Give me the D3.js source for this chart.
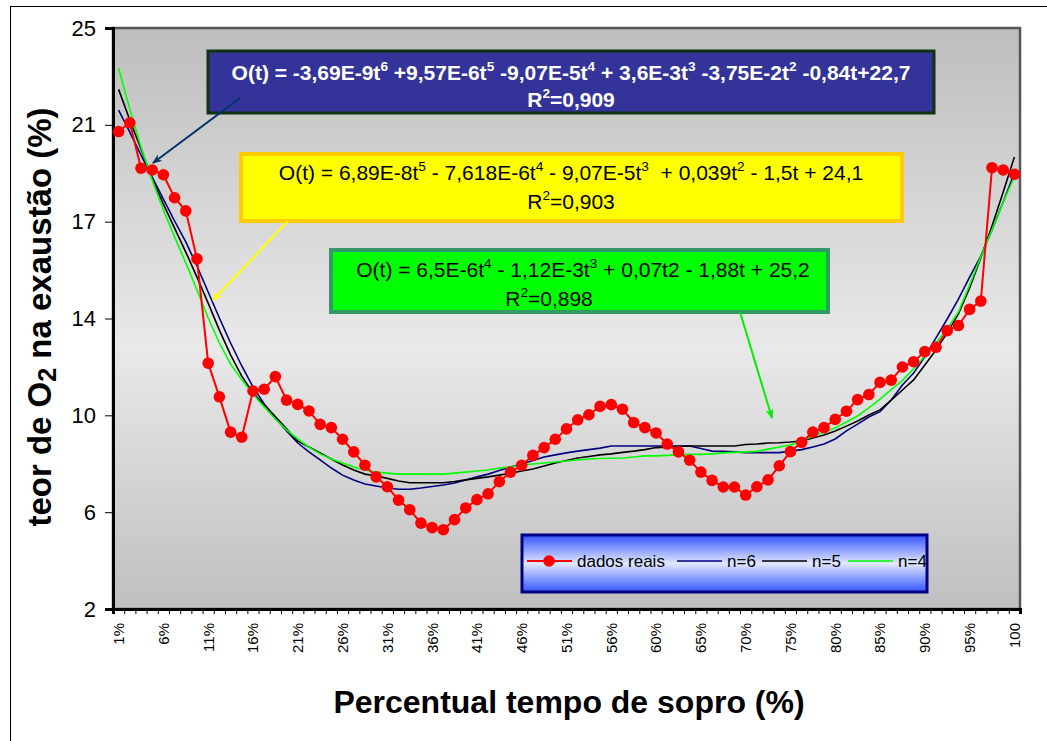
<!DOCTYPE html>
<html lang="pt">
<head>
<meta charset="UTF-8">
<title>teor de O2 na exaustão</title>
<script src="https://d3js.org/d3.v7.min.js"></script>
<style>
    body { margin: 0; background: #fff; }
    text { font-family: "Liberation Sans", Arial, sans-serif; }
</style>
</head>
<body>
<script>
    const width = 1047
    const height = 741
    const plot = {left: 113, right: 1020, top: 28, bottom: 609}

    // x tick labels (one every 4 categories)
    const tickLabels = ['1%', '6%', '11%', '16%', '21%', '26%', '31%', '36%', '41%', '46%', '51%',
        '56%', '60%', '65%', '70%', '75%', '80%', '85%', '90%', '95%', '100']
    const yTickValues = [2, 5.833, 9.667, 13.5, 17.333, 21.167, 25]
    const yTickLabels = ['2', '6', '10', '14', '17', '21', '25']

    const dadosReais = [20.9, 21.25, 19.45, 19.38, 19.19, 18.28, 17.76, 15.86, 11.73, 10.40,
        9.0, 8.8, 10.63, 10.70, 11.2, 10.27, 10.1, 9.84, 9.31, 9.18,
        8.72, 8.22, 7.69, 7.23, 6.84, 6.31, 5.93, 5.40, 5.22, 5.14,
        5.54, 6.0, 6.33, 6.56, 7.04, 7.42, 7.69, 8.08, 8.39, 8.72,
        9.13, 9.49, 9.69, 10.02, 10.09, 9.91, 9.38, 9.18, 8.97, 8.53,
        8.22, 7.89, 7.42, 7.09, 6.83, 6.83, 6.51, 6.84, 7.11, 7.67,
        8.23, 8.6, 9.0, 9.18, 9.51, 9.83, 10.29, 10.49, 10.97, 11.06,
        11.58, 11.79, 12.19, 12.36, 13.02, 13.22, 13.86, 14.19, 19.47, 19.38, 19.21]
    const n6 = [21.75, 20.88, 19.97, 19.10, 18.23, 17.36, 16.53, 15.58, 14.55, 13.52,
        12.53, 11.62, 10.79, 10.12, 9.56, 9.05, 8.57, 8.22, 7.90, 7.58,
        7.30, 7.11, 6.95, 6.87, 6.79, 6.74, 6.74, 6.79, 6.85, 6.91,
        6.99, 7.11, 7.23, 7.34, 7.48, 7.62, 7.74, 7.88, 8.02, 8.10,
        8.18, 8.25, 8.31, 8.37, 8.45, 8.45, 8.45, 8.45, 8.45, 8.45,
        8.45, 8.45, 8.35, 8.25, 8.24, 8.22, 8.19, 8.19, 8.19, 8.19,
        8.25, 8.31, 8.41, 8.53, 8.73, 9.05, 9.32, 9.60, 9.81, 10.27,
        10.87, 11.34, 11.98, 12.73, 13.48, 14.27, 15.14, 15.97, 17.01, 18.11, 19.26]
    const n5 = [22.57, 21.36, 20.21, 19.02, 18.03, 17.08, 16.13, 15.14, 14.11, 13.04,
        12.06, 11.22, 10.55, 10.08, 9.62, 9.13, 8.65, 8.41, 8.18, 7.94,
        7.70, 7.50, 7.34, 7.27, 7.17, 7.07, 7.00, 7.00, 7.00, 7.00,
        7.05, 7.11, 7.17, 7.23, 7.30, 7.38, 7.46, 7.54, 7.66, 7.78,
        7.88, 7.98, 8.04, 8.10, 8.14, 8.20, 8.25, 8.31, 8.39, 8.41,
        8.43, 8.45, 8.45, 8.45, 8.45, 8.45, 8.51, 8.53, 8.57, 8.58,
        8.61, 8.65, 8.77, 8.89, 9.05, 9.24, 9.44, 9.68, 9.88, 10.27,
        10.67, 11.07, 11.66, 12.25, 12.93, 13.68, 14.71, 15.90, 17.16, 18.51, 19.89]
    const n4 = [23.41, 21.79, 20.29, 18.98, 17.80, 16.73, 15.70, 14.63, 13.52, 12.53,
        11.70, 11.07, 10.51, 10.00, 9.52, 9.09, 8.73, 8.41, 8.14, 7.94,
        7.78, 7.62, 7.50, 7.42, 7.38, 7.34, 7.34, 7.34, 7.34, 7.34,
        7.38, 7.42, 7.46, 7.50, 7.58, 7.62, 7.70, 7.74, 7.78, 7.82,
        7.86, 7.90, 7.94, 7.96, 7.97, 7.98, 8.02, 8.06, 8.06, 8.08,
        8.10, 8.12, 8.12, 8.14, 8.18, 8.20, 8.22, 8.24, 8.33, 8.41,
        8.49, 8.65, 8.85, 9.01, 9.17, 9.40, 9.64, 9.96, 10.31, 10.68,
        11.05, 11.51, 12.02, 12.53, 13.10, 13.76, 14.83, 15.94, 17.01, 18.10, 19.10]

    const seriesNames = ['dados reais', 'n=6', 'n=5', 'n=4']
    const colors = ['#ff0000', '#000080', '#000000', '#00ff00']

    const eqN6 = ['O(t) = -3,69E-9t^6 +9,57E-6t^5 -9,07E-5t^4 + 3,6E-3t^3 -3,75E-2t^2 -0,84t+22,7', 'R^2=0,909']
    const eqN5 = ['O(t) = 6,89E-8t^5 - 7,618E-6t^4 - 9,07E-5t^3  + 0,039t^2 - 1,5t + 24,1', 'R^2=0,903']
    const eqN4 = ['O(t) = 6,5E-6t^4 - 1,12E-3t^3 + 0,07t2 - 1,88t + 25,2', 'R^2=0,898']

    const categories = d3.range(dadosReais.length)

    const svg = d3.select('body')
        .append('svg')
        .attr('width', width)
        .attr('height', height)

    const defs = svg.append('defs')
    const bg = defs.append('linearGradient').attr('id', 'plotBg')
        .attr('x1', 0).attr('y1', 0).attr('x2', 0).attr('y2', 1)
    bg.append('stop').attr('offset', '0%').attr('stop-color', '#bebebe')
    bg.append('stop').attr('offset', '55%').attr('stop-color', '#e9e9e9')
    bg.append('stop').attr('offset', '100%').attr('stop-color', '#bfbfbf')
    const lg = defs.append('linearGradient').attr('id', 'legBg')
        .attr('x1', 0).attr('y1', 0).attr('x2', 0).attr('y2', 1)
    lg.append('stop').attr('offset', '0%').attr('stop-color', '#3355ff')
    lg.append('stop').attr('offset', '50%').attr('stop-color', '#e2e8ff')
    lg.append('stop').attr('offset', '100%').attr('stop-color', '#3355ff')
    const arrowColors = {navy: '#003366', yellow: '#ffff00', green: '#00ee00'}
    Object.keys(arrowColors).forEach(function (k) {
        defs.append('marker').attr('id', 'arr-' + k)
            .attr('viewBox', '0 0 10 8').attr('refX', 9).attr('refY', 4)
            .attr('markerWidth', 10).attr('markerHeight', 8)
            .attr('markerUnits', 'userSpaceOnUse')
            .attr('orient', 'auto')
            .append('path').attr('d', 'M0,0 L10,4 L0,8 L3,4 z')
            .attr('fill', arrowColors[k])
    })

    // chart frame
    svg.append('rect')
        .attr('x', 10.5).attr('y', 6.5)
        .attr('width', 1100).attr('height', 800)
        .attr('fill', '#fff').attr('stroke', '#000').attr('stroke-width', 1)

    svg.append('rect')
        .attr('x', plot.left).attr('y', plot.top)
        .attr('width', plot.right - plot.left).attr('height', plot.bottom - plot.top)
        .attr('fill', 'url(#plotBg)')
        .attr('stroke', '#555').attr('stroke-width', 2.5)

    const xScale = d3.scaleBand()
        .domain(categories)
        .range([plot.left, plot.right])
    const xEdge = d3.scaleLinear()
        .domain([0, categories.length])
        .range([plot.left, plot.right])
    const yScale = d3.scaleLinear()
        .domain([2, 25])
        .range([plot.bottom, plot.top])

    // y axis
    const yAxis = svg.append('g')
        .attr('transform', 'translate(' + plot.left + ',0)')
        .call(d3.axisLeft(yScale).tickValues(yTickValues).tickSize(8).tickPadding(9)
            .tickFormat(function (d, i) { return yTickLabels[i] }))
    yAxis.select('.domain').attr('stroke', '#000').attr('stroke-width', 3)
    yAxis.selectAll('text').attr('font-size', 22).attr('fill', '#000')
        .style('font-family', '"Liberation Sans", Arial, sans-serif')

    // x axis: ticks between categories, labels every 4th
    const xTicks = svg.append('g')
        .attr('transform', 'translate(0,' + plot.bottom + ')')
        .call(d3.axisBottom(xEdge).tickValues(d3.range(categories.length + 1)).tickSize(5).tickFormat(''))
    xTicks.select('.domain').attr('stroke', '#000').attr('stroke-width', 3)
    const xLabels = svg.append('g')
        .attr('transform', 'translate(0,' + plot.bottom + ')')
        .call(d3.axisBottom(xScale).tickValues(categories.filter(function (i) { return i % 4 === 0 }))
            .tickSize(0).tickFormat(function (i) { return tickLabels[i / 4] }))
    xLabels.select('.domain').remove()
    xLabels.selectAll('text')
        .attr('transform', 'rotate(-90)')
        .attr('text-anchor', 'end')
        .attr('x', -14).attr('y', 0).attr('dy', '0.36em')
        .attr('font-size', 15).attr('fill', '#000')
        .style('font-family', '"Liberation Sans", Arial, sans-serif')

    // fitted curves
    const line = d3.line()
        .x(function (d, i) { return xScale(categories[i]) + xScale.bandwidth() / 2 })
        .y(function (d) { return yScale(d) })
    const fits = [n6, n5, n4]
    fits.forEach(function (s, j) {
        svg.append('path')
            .attr('d', line(s))
            .attr('fill', 'none')
            .attr('stroke', colors[j + 1])
            .attr('stroke-width', 1.6)
    })

    // measured data
    svg.append('path')
        .attr('d', line(dadosReais))
        .attr('fill', 'none')
        .attr('stroke', colors[0])
        .attr('stroke-width', 2)
    svg.append('g')
        .selectAll('circle')
        .data(dadosReais)
        .join('circle')
        .attr('cx', function (d, i) { return xScale(categories[i]) + xScale.bandwidth() / 2 })
        .attr('cy', function (d) { return yScale(d) })
        .attr('r', 5.8)
        .attr('fill', colors[0])

    // axis titles
    const yTitle = svg.append('text')
        .attr('transform', 'translate(51,317) rotate(-90)')
        .attr('text-anchor', 'middle')
        .attr('font-size', 33).attr('font-weight', 'bold')
    yTitle.append('tspan').text('teor de O')
    yTitle.append('tspan').attr('font-size', 25).attr('dy', 5).text('2')
    yTitle.append('tspan').attr('dy', -5).text(' na exaustão (%)')

    svg.append('text')
        .attr('x', 569).attr('y', 713)
        .attr('text-anchor', 'middle')
        .attr('font-size', 32).attr('font-weight', 'bold')
        .text('Percentual tempo de sopro (%)')

    // legend
    const legend = svg.append('g')
    legend.append('rect')
        .attr('x', 522).attr('y', 535).attr('width', 405).attr('height', 57)
        .attr('fill', 'url(#legBg)').attr('stroke', '#000080').attr('stroke-width', 3)
    const legX = [527, 677, 762, 848]
    seriesNames.forEach(function (name, j) {
        legend.append('line')
            .attr('x1', legX[j]).attr('x2', legX[j] + 45)
            .attr('y1', 561).attr('y2', 561)
            .attr('stroke', colors[j]).attr('stroke-width', j === 0 ? 2 : 1.6)
        if (j === 0) {
            legend.append('circle').attr('cx', legX[j] + 22).attr('cy', 561).attr('r', 5.8).attr('fill', colors[0])
        }
        legend.append('text')
            .attr('x', legX[j] + 50).attr('y', 567)
            .attr('font-size', 17).attr('fill', '#000')
            .text(name)
    })

    // equation boxes
    function richLine(g, str, x, y, size, fill, weight, family) {
        const t = g.append('text')
            .attr('x', x).attr('y', y)
            .attr('text-anchor', 'middle')
            .attr('font-size', size).attr('fill', fill).attr('font-weight', weight)
            .style('white-space', 'pre')
        if (family) t.style('font-family', family)
        const parts = str.split('^')
        parts.forEach(function (p, i) {
            if (i === 0) {
                t.append('tspan').text(p)
                return
            }
            t.append('tspan').attr('dy', -size * 0.42).attr('font-size', size * 0.65).text(p[0])
            t.append('tspan').attr('dy', size * 0.42).text(p.slice(1))
        })
    }

    const boxes = [
        {eq: eqN6, x: 208, y: 51, w: 726, h: 62, fill: '#333399', stroke: '#123312', sw: 3,
            text: '#fff', weight: 'bold', size: 21, cx: [571, 571], by: [80, 107],
            family: '"Liberation Sans Narrow", "Arial Narrow", "Liberation Sans", sans-serif'},
        {eq: eqN5, x: 241, y: 154, w: 661, h: 67, fill: '#ffff00', stroke: '#ffcc00', sw: 4,
            text: '#000', weight: 'normal', size: 21, cx: [571, 571], by: [180, 209]},
        {eq: eqN4, x: 331, y: 250, w: 497, h: 62, fill: '#00ff00', stroke: '#339966', sw: 4,
            text: '#000', weight: 'normal', size: 21, cx: [583, 549], by: [277, 306]}
    ]
    const arrows = [
        {x1: 240, y1: 98, x2: 153, y2: 163, c: 'navy'},
        {x1: 288, y1: 221, x2: 213, y2: 300, c: 'yellow'},
        {x1: 740, y1: 312, x2: 772, y2: 418, c: 'green'}
    ]
    boxes.forEach(function (b, i) {
        const g = svg.append('g')
        g.append('rect')
            .attr('x', b.x).attr('y', b.y).attr('width', b.w).attr('height', b.h)
            .attr('fill', b.fill).attr('stroke', b.stroke).attr('stroke-width', b.sw)
        richLine(g, b.eq[0], b.cx[0], b.by[0], b.size, b.text, b.weight, b.family)
        richLine(g, b.eq[1], b.cx[1], b.by[1], b.size, b.text, b.weight, b.family)
        const a = arrows[i]
        svg.append('line')
            .attr('x1', a.x1).attr('y1', a.y1).attr('x2', a.x2).attr('y2', a.y2)
            .attr('stroke', arrowColors[a.c]).attr('stroke-width', 2)
            .attr('marker-end', 'url(#arr-' + a.c + ')')
    })
</script>
</body>
</html>
